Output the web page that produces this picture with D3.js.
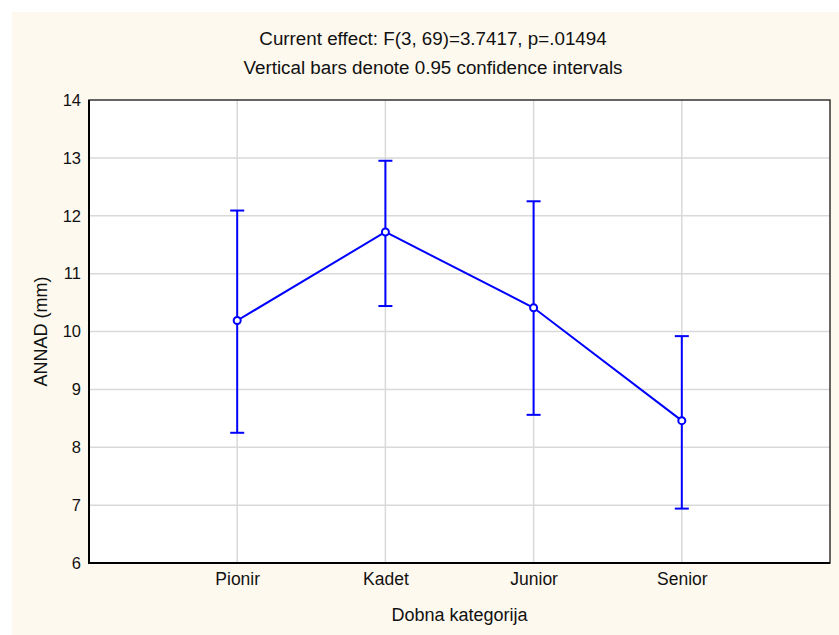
<!DOCTYPE html>
<html><head><meta charset="utf-8">
<script src="https://cdn.jsdelivr.net/npm/d3@7"></script>
<style>body{margin:0;background:#fff}svg{display:block}text{font-family:"Liberation Sans",Arial,sans-serif;fill:#111}</style>
</head><body>
<svg id="c" width="839" height="635"></svg>
<script>
const categories = ["Pionir", "Kadet", "Junior", "Senior"];
const means = [10.19, 11.72, 10.41, 8.46];
const upper = [12.09, 12.95, 12.25, 9.92];
const lower = [8.25, 10.44, 8.56, 6.94];
const yTicks = [6, 7, 8, 9, 10, 11, 12, 13, 14];
const title1 = "Current effect: F(3, 69)=3.7417, p=.01494";
const title2 = "Vertical bars denote 0.95 confidence intervals";
const xTitle = "Dobna kategorija";
const yTitle = "ANNAD (mm)";

const FONT = '"Liberation Sans",Arial,sans-serif';
const svg = d3.select("#c");
const L = 89, R = 830, T = 100, B = 563;
svg.append("rect").attr("x", 12).attr("y", 12).attr("width", 827).attr("height", 623).attr("fill", "#fef9ee");
svg.append("rect").attr("x", L).attr("y", T).attr("width", R - L).attr("height", B - T).attr("fill", "#fff");

const x = d3.scalePoint().domain(categories).range([L, R]).padding(1);
const y = d3.scaleLinear().domain([6, 14]).range([B, T]);

// grid
svg.append("g").selectAll("line.h").data(yTicks.slice(1, -1)).join("line")
  .attr("x1", L).attr("x2", R).attr("y1", d => y(d)).attr("y2", d => y(d))
  .attr("stroke", "#d9d9d9").attr("stroke-width", 1.5);
svg.append("g").selectAll("line.v").data(categories).join("line")
  .attr("x1", d => x(d)).attr("x2", d => x(d)).attr("y1", T).attr("y2", B)
  .attr("stroke", "#d9d9d9").attr("stroke-width", 1.5);

// axes
const yAxis = d3.axisLeft(y).tickValues(yTicks).tickSize(0).tickPadding(8);
const gy = svg.append("g").attr("transform", `translate(${L},0)`).call(yAxis);
gy.select(".domain").remove();
gy.selectAll("text").attr("font-size", 16.5).style("font-family", FONT).attr("fill", "#111");
const xAxis = d3.axisBottom(x).tickSize(0).tickPadding(10);
const gx = svg.append("g").attr("transform", `translate(0,${B})`).call(xAxis);
gx.select(".domain").remove();
gx.selectAll("text").attr("font-size", 17.5).style("font-family", FONT).attr("fill", "#111");

// frame
svg.append("rect").attr("x", L).attr("y", T).attr("width", R - L).attr("height", B - T)
  .attr("fill", "none").attr("stroke", "#333").attr("stroke-width", 1.5);
svg.append("path").attr("d", `M${L},${T}V${B}H${R}`).attr("fill", "none").attr("stroke", "#000").attr("stroke-width", 2);

// error bars
const blue = "#0000ff";
const idx = d3.range(categories.length);
const g = svg.append("g");
g.selectAll("line.eb").data(idx).join("line")
  .attr("x1", i => x(categories[i])).attr("x2", i => x(categories[i]))
  .attr("y1", i => y(upper[i])).attr("y2", i => y(lower[i]))
  .attr("stroke", blue).attr("stroke-width", 2);
g.selectAll("line.cu").data(idx).join("line")
  .attr("x1", i => x(categories[i]) - 7).attr("x2", i => x(categories[i]) + 7)
  .attr("y1", i => y(upper[i])).attr("y2", i => y(upper[i]))
  .attr("stroke", blue).attr("stroke-width", 2);
g.selectAll("line.cl").data(idx).join("line")
  .attr("x1", i => x(categories[i]) - 7).attr("x2", i => x(categories[i]) + 7)
  .attr("y1", i => y(lower[i])).attr("y2", i => y(lower[i]))
  .attr("stroke", blue).attr("stroke-width", 2);

// mean line
const line = d3.line().x(i => x(categories[i])).y(i => y(means[i]));
g.append("path").datum(idx).attr("d", line).attr("fill", "none").attr("stroke", blue).attr("stroke-width", 2);
g.selectAll("circle").data(idx).join("circle")
  .attr("cx", i => x(categories[i])).attr("cy", i => y(means[i])).attr("r", 3.5)
  .attr("fill", "#fff").attr("stroke", blue).attr("stroke-width", 2);

// titles
svg.append("text").attr("x", 433).attr("y", 45).attr("text-anchor", "middle").attr("font-size", 18.8).text(title1);
svg.append("text").attr("x", 433).attr("y", 74).attr("text-anchor", "middle").attr("font-size", 18.8).text(title2);
svg.append("text").attr("x", (L + R) / 2).attr("y", 621).attr("text-anchor", "middle").attr("font-size", 18).text(xTitle);
svg.append("text").attr("transform", `translate(47,${(T + B) / 2}) rotate(-90)`).attr("text-anchor", "middle").attr("font-size", 18).text(yTitle);
</script>
</body></html>
